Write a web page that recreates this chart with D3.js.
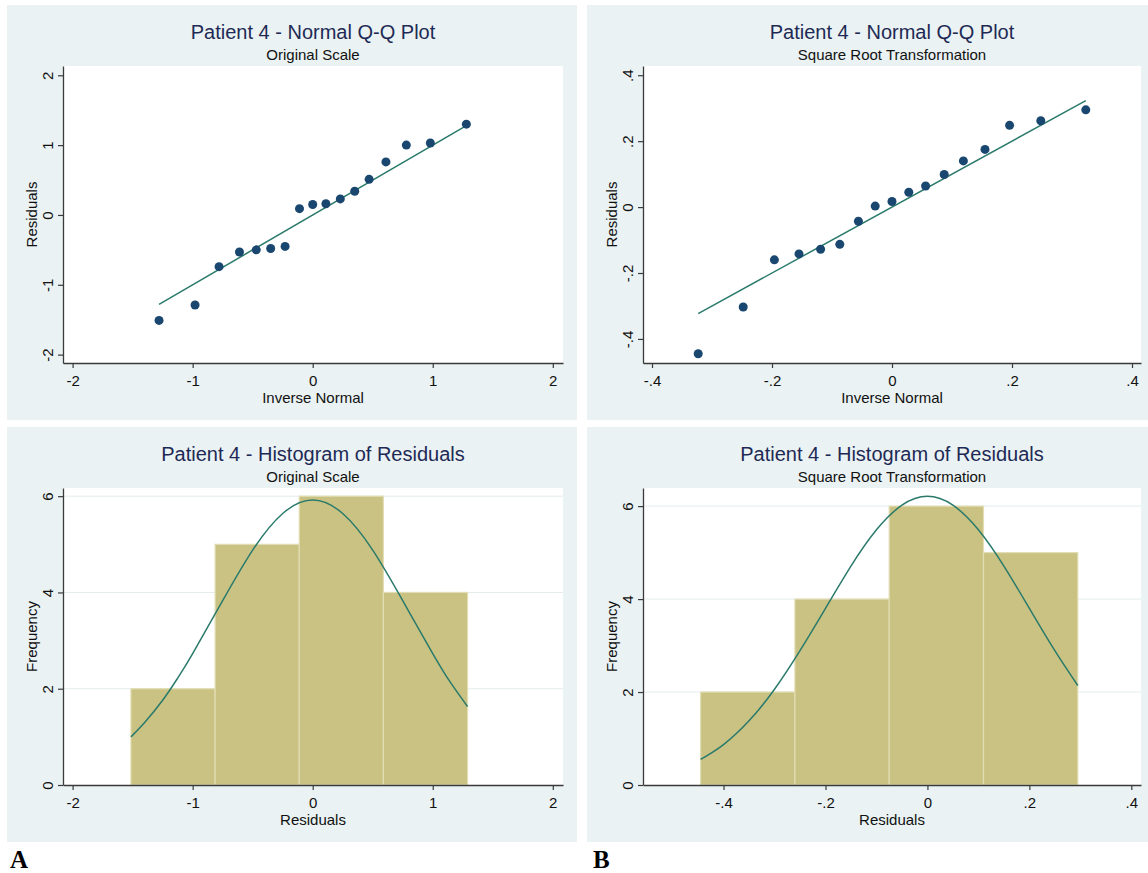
<!DOCTYPE html>
<html>
<head>
<meta charset="utf-8">
<script src="https://cdn.jsdelivr.net/npm/d3@7"></script>
<style>
  body { margin: 0; background: #fff; }
  svg { display: block; font-family: "Liberation Sans", Arial, sans-serif; }
</style>
</head>
<body>
<svg id="chart" width="1148" height="873"></svg>
<script>
// Q-Q data, original scale (inverse normal vs residual)
var invNormOrig = [-1.28, -0.98, -0.78, -0.61, -0.47, -0.35, -0.23, -0.11, 0, 0.11, 0.23, 0.35, 0.47, 0.61, 0.78, 0.98, 1.28];
var residOrig   = [-1.51, -1.29, -0.74, -0.53, -0.50, -0.48, -0.45, 0.09, 0.15, 0.16, 0.23, 0.34, 0.51, 0.76, 1.00, 1.03, 1.30];

// Q-Q data, square root transformation
var invNormSqrt = [-0.323, -0.248, -0.196, -0.155, -0.119, -0.087, -0.056, -0.028, 0, 0.028, 0.056, 0.087, 0.119, 0.155, 0.196, 0.248, 0.323];
var residSqrt   = [-0.445, -0.303, -0.160, -0.142, -0.128, -0.113, -0.043, 0.003, 0.017, 0.045, 0.064, 0.099, 0.140, 0.175, 0.248, 0.262, 0.295];

// histograms: bin edges and counts
var binEdgesOrig = [-1.514, -0.813, -0.112, 0.589, 1.29];
var countsOrig   = [2, 5, 6, 4];
var binEdgesSqrt = [-0.445, -0.26, -0.075, 0.11, 0.295];
var countsSqrt   = [2, 4, 6, 5];

// normal density overlays (frequency units)
var curveXOrig = [-1.514, -1.4, -1.25, -1.125, -1.0, -0.75, -0.5, -0.25, 0, 0.25, 0.5, 0.75, 1.0, 1.15, 1.29];
var curveYOrig = [1.00, 1.30, 1.76, 2.22, 2.73, 3.83, 4.88, 5.64, 5.92, 5.64, 4.88, 3.83, 2.73, 2.12, 1.63];
var curveXSqrt = [-0.445, -0.4, -0.35, -0.3, -0.25, -0.2, -0.15, -0.1, -0.05, 0, 0.05, 0.1, 0.15, 0.2, 0.25, 0.295];
var curveYSqrt = [0.55, 0.87, 1.38, 2.06, 2.89, 3.80, 4.71, 5.49, 6.02, 6.21, 6.02, 5.49, 4.71, 3.80, 2.89, 2.14];

// tick labels
var ticksOrig = [-2, -1, 0, 1, 2];
var ticksSqrt = [-0.4, -0.2, 0, 0.2, 0.4];
var ticksFreq = [0, 2, 4, 6];

var navy = '#1a476f',
    fitColor = '#2a7a6b',
    barColor = '#cac283',
    panelBg = '#eaf2f3';

var svg = d3.select('#chart');

function stataFmt(d) {
  return d === 0 ? '0' : String(d).replace('0.', '.');
}

function drawPanel(p) {
  var g = svg.append('g').attr('transform', 'translate(' + p.x + ',' + p.y + ')');

  var left = 56, top = 61, bottom = 358, right = left + p.plotW;

  g.append('rect')
    .attr('width', p.w)
    .attr('height', 415)
    .attr('fill', panelBg);

  g.append('rect')
    .attr('x', left)
    .attr('y', top)
    .attr('width', p.plotW)
    .attr('height', bottom - top)
    .attr('fill', '#fff');

  var x = d3.scaleLinear().domain(p.xDomain).range([left, right]);
  var y = d3.scaleLinear().domain(p.yDomain).range([bottom, top]);

  if (p.grid) {
    g.append('g').selectAll('line')
      .data(p.yTicks.filter(function(d) { return d !== 0; }))
      .enter()
        .append('line')
        .attr('x1', left)
        .attr('x2', right)
        .attr('y1', function(d) { return y(d); })
        .attr('y2', function(d) { return y(d); })
        .attr('stroke', '#e3ecee')
        .attr('stroke-width', 1);
  }

  // titles
  g.append('text')
    .attr('x', (left + right) / 2)
    .attr('y', 34)
    .attr('text-anchor', 'middle')
    .attr('font-size', 20)
    .attr('fill', '#1e2a55')
    .text(p.title);

  g.append('text')
    .attr('x', (left + right) / 2)
    .attr('y', 55)
    .attr('text-anchor', 'middle')
    .attr('font-size', 15)
    .attr('fill', '#111')
    .text(p.subtitle);

  var plot = g.append('g');

  // axes
  var xAxis = g.append('g')
    .attr('transform', 'translate(0,' + bottom + ')')
    .call(d3.axisBottom(x).tickValues(p.xTicks).tickFormat(stataFmt)
      .tickSizeInner(5).tickSizeOuter(0).tickPadding(7));

  var yAxis = g.append('g')
    .attr('transform', 'translate(' + left + ',0)')
    .call(d3.axisLeft(y).tickValues(p.yTicks).tickFormat(stataFmt)
      .tickSizeInner(5).tickSizeOuter(0));

  [xAxis, yAxis].forEach(function(a) {
    a.attr('font-family', null).attr('font-size', 15);
    a.select('.domain').attr('stroke', '#3a3a3a').attr('stroke-width', 1.3);
    a.selectAll('.tick line').attr('stroke', '#3a3a3a').attr('stroke-width', 1.2);
    a.selectAll('.tick text').attr('fill', '#111');
  });

  yAxis.selectAll('.tick text')
    .attr('transform', 'rotate(-90)')
    .attr('x', 0)
    .attr('y', -10)
    .attr('dy', 0)
    .attr('text-anchor', 'middle');

  g.append('text')
    .attr('x', (left + right) / 2)
    .attr('y', bottom + 40)
    .attr('text-anchor', 'middle')
    .attr('font-size', 15)
    .attr('fill', '#111')
    .text(p.xLabel);

  g.append('text')
    .attr('transform', 'translate(' + (left - 26) + ',' + ((top + bottom) / 2) + ') rotate(-90)')
    .attr('text-anchor', 'middle')
    .attr('font-size', 15)
    .attr('fill', '#111')
    .text(p.yLabel);

  return { plot: plot, x: x, y: y };
}

function drawQQ(p, xs, ys) {
  var c = drawPanel(p);
  var ext = d3.extent(xs);

  c.plot.append('path')
    .datum([[ext[0], ext[0]], [ext[1], ext[1]]])
    .attr('fill', 'none')
    .attr('stroke', fitColor)
    .attr('stroke-width', 1.5)
    .attr('d', d3.line()
      .x(function(d) { return c.x(d[0]); })
      .y(function(d) { return c.y(d[1]); }));

  c.plot.selectAll('circle')
    .data(xs)
    .enter()
      .append('circle')
      .attr('cx', function(d) { return c.x(d); })
      .attr('cy', function(d, i) { return c.y(ys[i]); })
      .attr('r', 4.5)
      .attr('fill', navy);
}

function drawHist(p, edges, counts, cx, cy) {
  var c = drawPanel(p);

  c.plot.selectAll('rect')
    .data(counts)
    .enter()
      .append('rect')
      .attr('x', function(d, i) { return c.x(edges[i]); })
      .attr('width', function(d, i) { return c.x(edges[i + 1]) - c.x(edges[i]); })
      .attr('y', function(d) { return c.y(d); })
      .attr('height', function(d) { return c.y(0) - c.y(d); })
      .attr('fill', barColor)
      .attr('stroke', '#e2ddb3')
      .attr('stroke-width', 1.2);

  c.plot.append('path')
    .datum(cx)
    .attr('fill', 'none')
    .attr('stroke', fitColor)
    .attr('stroke-width', 1.5)
    .attr('d', d3.line()
      .curve(d3.curveNatural)
      .x(function(d) { return c.x(d); })
      .y(function(d, i) { return c.y(cy[i]); }));
}

drawQQ({
  x: 7, y: 5, w: 570, plotW: 500,
  title: 'Patient 4 - Normal Q-Q Plot', subtitle: 'Original Scale',
  xDomain: [-2.08, 2.085], yDomain: [-2.12, 2.133],
  xTicks: ticksOrig, yTicks: ticksOrig,
  xLabel: 'Inverse Normal', yLabel: 'Residuals'
}, invNormOrig, residOrig);

drawQQ({
  x: 587, y: 5, w: 561, plotW: 498,
  title: 'Patient 4 - Normal Q-Q Plot', subtitle: 'Square Root Transformation',
  xDomain: [-0.415, 0.415], yDomain: [-0.473, 0.428],
  xTicks: ticksSqrt, yTicks: ticksSqrt,
  xLabel: 'Inverse Normal', yLabel: 'Residuals'
}, invNormSqrt, residSqrt);

drawHist({
  x: 7, y: 427, w: 570, plotW: 500, grid: true,
  title: 'Patient 4 - Histogram of Residuals', subtitle: 'Original Scale',
  xDomain: [-2.08, 2.085], yDomain: [0, 6.17],
  xTicks: ticksOrig, yTicks: ticksFreq,
  xLabel: 'Residuals', yLabel: 'Frequency'
}, binEdgesOrig, countsOrig, curveXOrig, curveYOrig);

drawHist({
  x: 587, y: 427, w: 561, plotW: 498, grid: true,
  title: 'Patient 4 - Histogram of Residuals', subtitle: 'Square Root Transformation',
  xDomain: [-0.558, 0.419], yDomain: [0, 6.39],
  xTicks: ticksSqrt, yTicks: ticksFreq,
  xLabel: 'Residuals', yLabel: 'Frequency'
}, binEdgesSqrt, countsSqrt, curveXSqrt, curveYSqrt);

// panel letters
svg.selectAll('text.letter')
  .data([{ t: 'A', x: 10 }, { t: 'B', x: 593 }])
  .enter()
    .append('text')
    .attr('class', 'letter')
    .attr('x', function(d) { return d.x; })
    .attr('y', 868)
    .attr('font-family', '"Liberation Serif", "Times New Roman", serif')
    .attr('font-weight', 'bold')
    .attr('font-size', 25)
    .attr('fill', '#000')
    .text(function(d) { return d.t; });
</script>
</body>
</html>
